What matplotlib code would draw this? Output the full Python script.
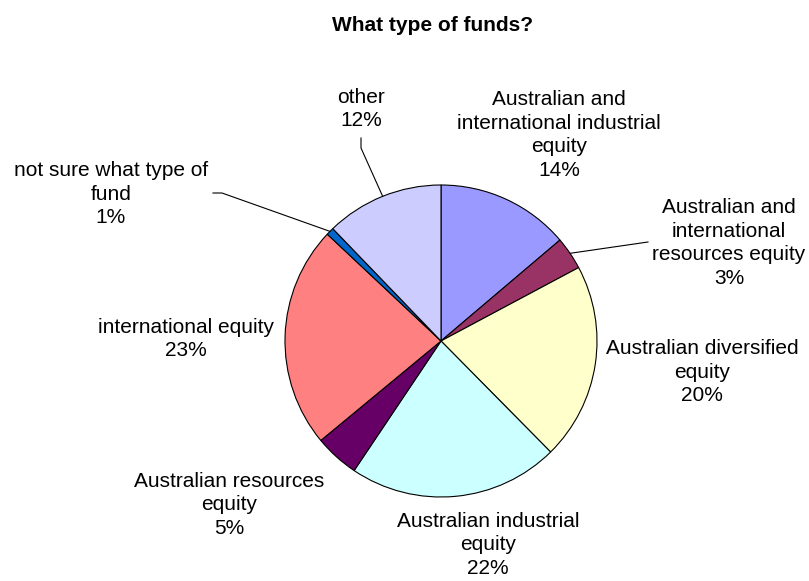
import matplotlib
matplotlib.use("Agg")
import matplotlib.pyplot as plt
import numpy as np

plt.rcParams['font.family'] = ['Liberation Sans', 'DejaVu Sans']

categories = ["Australian and\ninternational industrial\nequity",
              "Australian and\ninternational\nresources equity",
              "Australian diversified\nequity",
              "Australian industrial\nequity",
              "Australian resources\nequity",
              "international equity",
              "not sure what type of\nfund",
              "other"]
values = [13.8, 3.4, 20.4, 21.8, 4.6, 23.0, 0.8, 12.2]
pct_labels = ["14%", "3%", "20%", "22%", "5%", "23%", "1%", "12%"]
colors = ["#9999FF", "#993366", "#FFFFCC", "#CCFFFF", "#660066",
          "#FF8080", "#0066CC", "#CCCCFF"]

W, H = 809, 581
fig = plt.figure(figsize=(W / 100, H / 100), dpi=100)
ax = fig.add_axes([0, 0, 1, 1])

cx, cy, r = 441, 240, 156
wedges, _ = ax.pie(values, colors=colors, startangle=90, counterclock=False,
                   center=(cx, cy), radius=r, frame=True,
                   wedgeprops=dict(edgecolor='black', linewidth=0.8))
ax.set_xlim(0, W)
ax.set_ylim(0, H)
ax.set_aspect('equal')
ax.axis('off')

# label centres (pixel offsets from pie centre, y up)
label_offsets = [(118, 206), (288, 98), (261, -31), (47, -204),
                 (-212, -164), (-255, 2), (-330, 147), (-80, 232)]
for cat, pct, (dx, dy) in zip(categories, pct_labels, label_offsets):
    ax.text(cx + dx, cy + dy, cat + "\n" + pct, ha='center', va='center',
            fontsize=15, linespacing=1.3)

# leader lines for small slices (image-pixel coordinates, y down)
leaders = {1: [(648, 242)], 6: [(222, 193), (213, 193)],
           7: [(361, 148), (361, 138)]}
for i, pts in leaders.items():
    w = wedges[i]
    ang = np.deg2rad((w.theta1 + w.theta2) / 2)
    x0, y0 = cx + r * np.cos(ang), cy + r * np.sin(ang)
    xs = [x0] + [p[0] for p in pts]
    ys = [y0] + [H - p[1] for p in pts]
    ax.plot(xs, ys, color='black', linewidth=0.8)

ax.text(433, H - 31, "What type of funds?", ha='center', va='baseline',
        fontsize=15, fontweight='bold')

fig.savefig("out.png", dpi=100)
